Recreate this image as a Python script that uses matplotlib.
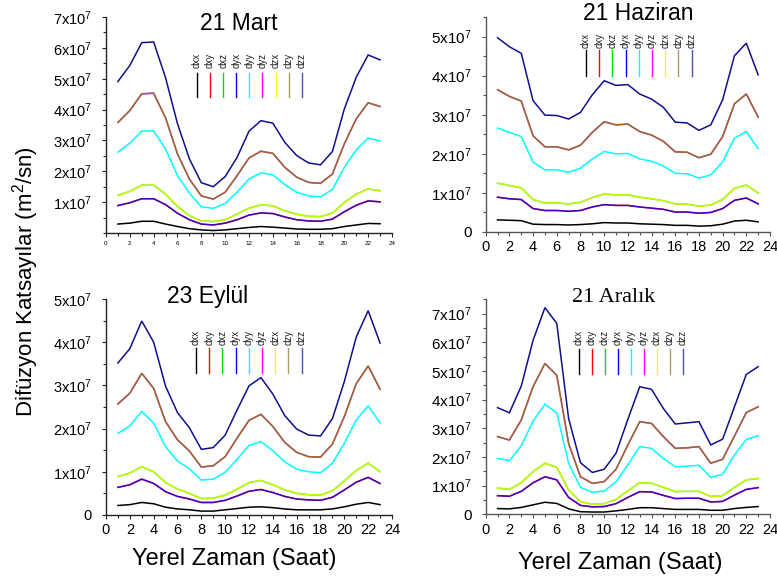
import matplotlib
matplotlib.use("Agg")
import matplotlib.pyplot as plt
from matplotlib.ticker import MultipleLocator, FixedLocator, FuncFormatter

plt.rcParams['font.family'] = ['Liberation Sans', 'DejaVu Sans']

W, H = 777, 579
SCALE = 1e7

hours = list(range(1, 24))
names = ['dxx', 'dxy', 'dxz', 'dyx', 'dyy', 'dyz', 'dzx', 'dzy', 'dzz']
colors = ['#000000', '#ff0000', '#00e000', '#0000ff', '#00ffff', '#ff00ff', '#ffff00', '#808000', '#10108a']
legend_colors = ['#000000', '#ff0000', '#00e000', '#0000ff', '#00ffff', '#ff00ff', '#ffff00', '#a8a060', '#5050b0']
alphas = [1, 1, 1, 0.75, 1, 1, 0.8, 0.85, 1]

# ---- 21 Mart (values in 1e7 m2/s) ----
mart_dxx = [0.29, 0.32, 0.38, 0.38, 0.29, 0.21, 0.14, 0.10, 0.08, 0.10, 0.14, 0.18, 0.21, 0.19, 0.16, 0.13, 0.12, 0.12, 0.14, 0.21, 0.26, 0.31, 0.30]
mart_dxy = [0.89, 0.98, 1.11, 1.11, 0.92, 0.64, 0.43, 0.29, 0.26, 0.32, 0.43, 0.58, 0.65, 0.63, 0.52, 0.43, 0.39, 0.38, 0.45, 0.69, 0.90, 1.04, 1.01]
mart_dxz = [1.22, 1.35, 1.55, 1.55, 1.26, 0.86, 0.56, 0.39, 0.37, 0.43, 0.61, 0.81, 0.91, 0.88, 0.72, 0.61, 0.54, 0.53, 0.65, 0.99, 1.26, 1.43, 1.37]
mart_dyy = [2.62, 2.91, 3.30, 3.31, 2.72, 1.86, 1.29, 0.85, 0.80, 0.96, 1.32, 1.75, 1.95, 1.89, 1.57, 1.32, 1.20, 1.17, 1.41, 2.13, 2.69, 3.08, 2.98]
mart_dyz = [3.58, 3.97, 4.51, 4.53, 3.73, 2.56, 1.75, 1.20, 1.10, 1.32, 1.86, 2.43, 2.65, 2.58, 2.13, 1.81, 1.64, 1.61, 1.91, 2.89, 3.70, 4.22, 4.10]
mart_dzz = [4.91, 5.43, 6.17, 6.19, 5.03, 3.54, 2.40, 1.63, 1.50, 1.83, 2.45, 3.30, 3.64, 3.56, 2.94, 2.51, 2.27, 2.21, 2.64, 4.02, 5.05, 5.77, 5.61]
mart_dyx, mart_dzx, mart_dzy = mart_dxy, mart_dxz, mart_dyz

# ---- 21 Haziran ----
haz_dxx = [0.31, 0.30, 0.29, 0.20, 0.19, 0.19, 0.18, 0.19, 0.21, 0.24, 0.23, 0.23, 0.21, 0.20, 0.19, 0.17, 0.17, 0.15, 0.16, 0.20, 0.28, 0.30, 0.26]
haz_dxy = [0.89, 0.85, 0.83, 0.60, 0.55, 0.55, 0.53, 0.55, 0.64, 0.70, 0.68, 0.68, 0.64, 0.61, 0.58, 0.51, 0.51, 0.48, 0.50, 0.60, 0.81, 0.87, 0.72]
haz_dxz = [1.25, 1.19, 1.13, 0.83, 0.74, 0.74, 0.72, 0.76, 0.88, 0.97, 0.95, 0.95, 0.89, 0.85, 0.80, 0.72, 0.71, 0.66, 0.69, 0.83, 1.12, 1.20, 1.00]
haz_dyy = [2.66, 2.55, 2.44, 1.79, 1.59, 1.59, 1.53, 1.63, 1.87, 2.06, 2.00, 2.01, 1.87, 1.81, 1.69, 1.50, 1.49, 1.38, 1.46, 1.79, 2.40, 2.57, 2.13]
haz_dyz = [3.64, 3.47, 3.35, 2.46, 2.18, 2.18, 2.10, 2.22, 2.55, 2.82, 2.74, 2.76, 2.57, 2.48, 2.32, 2.05, 2.04, 1.90, 1.99, 2.44, 3.28, 3.53, 2.94]
haz_dzz = [4.97, 4.74, 4.57, 3.36, 2.99, 2.98, 2.89, 3.06, 3.51, 3.87, 3.75, 3.77, 3.53, 3.40, 3.19, 2.81, 2.79, 2.60, 2.74, 3.38, 4.51, 4.83, 4.02]
haz_dyx, haz_dzx, haz_dzy = haz_dxy, haz_dxz, haz_dyz

# ---- 23 Eylul ----
eyl_dxx = [0.22, 0.24, 0.29, 0.26, 0.18, 0.14, 0.12, 0.09, 0.09, 0.12, 0.15, 0.18, 0.19, 0.17, 0.14, 0.12, 0.12, 0.12, 0.14, 0.19, 0.25, 0.29, 0.24]
eyl_dxy = [0.64, 0.70, 0.83, 0.73, 0.54, 0.43, 0.37, 0.29, 0.29, 0.34, 0.44, 0.55, 0.59, 0.52, 0.43, 0.37, 0.35, 0.34, 0.41, 0.58, 0.76, 0.87, 0.73]
eyl_dxz = [0.89, 0.97, 1.12, 1.00, 0.75, 0.60, 0.50, 0.38, 0.39, 0.46, 0.60, 0.75, 0.80, 0.70, 0.58, 0.50, 0.47, 0.46, 0.56, 0.79, 1.03, 1.20, 1.00]
eyl_dyy = [1.89, 2.06, 2.40, 2.13, 1.58, 1.25, 1.07, 0.81, 0.83, 0.99, 1.29, 1.61, 1.70, 1.49, 1.23, 1.06, 1.00, 0.98, 1.20, 1.66, 2.20, 2.53, 2.13]
eyl_dyz = [2.57, 2.82, 3.28, 2.93, 2.16, 1.74, 1.48, 1.11, 1.14, 1.35, 1.78, 2.19, 2.33, 2.05, 1.68, 1.45, 1.35, 1.34, 1.64, 2.28, 3.04, 3.45, 2.91]
eyl_dzz = [3.52, 3.85, 4.49, 4.00, 2.98, 2.37, 2.02, 1.52, 1.56, 1.85, 2.43, 2.99, 3.18, 2.80, 2.30, 1.99, 1.85, 1.83, 2.23, 3.09, 4.12, 4.73, 3.98]
eyl_dyx, eyl_dzx, eyl_dzy = eyl_dxy, eyl_dxz, eyl_dyz

# ---- 21 Aralik ----
ara_dxx = [0.20, 0.19, 0.24, 0.33, 0.42, 0.38, 0.19, 0.09, 0.08, 0.08, 0.12, 0.17, 0.23, 0.23, 0.20, 0.17, 0.17, 0.17, 0.14, 0.14, 0.20, 0.24, 0.27]
ara_dxy = [0.65, 0.63, 0.80, 1.10, 1.31, 1.20, 0.59, 0.31, 0.26, 0.27, 0.37, 0.59, 0.79, 0.78, 0.66, 0.55, 0.56, 0.56, 0.43, 0.45, 0.67, 0.87, 0.93]
ara_dxz = [0.91, 0.87, 1.10, 1.49, 1.78, 1.64, 0.85, 0.44, 0.35, 0.37, 0.52, 0.82, 1.10, 1.08, 0.94, 0.79, 0.80, 0.80, 0.62, 0.65, 0.94, 1.20, 1.25]
ara_dyy = [1.95, 1.87, 2.39, 3.25, 3.84, 3.54, 1.78, 0.94, 0.77, 0.81, 1.13, 1.72, 2.36, 2.30, 1.95, 1.66, 1.68, 1.71, 1.29, 1.39, 2.07, 2.61, 2.74]
ara_dyz = [2.71, 2.59, 3.29, 4.45, 5.26, 4.85, 2.47, 1.31, 1.08, 1.14, 1.57, 2.42, 3.23, 3.17, 2.71, 2.30, 2.32, 2.36, 1.78, 1.92, 2.73, 3.55, 3.75]
ara_dzz = [3.72, 3.54, 4.47, 6.07, 7.21, 6.66, 3.34, 1.80, 1.46, 1.57, 2.13, 3.31, 4.45, 4.36, 3.69, 3.15, 3.19, 3.23, 2.42, 2.62, 3.75, 4.88, 5.15]
ara_dyx, ara_dzx, ara_dzy = ara_dxy, ara_dxz, ara_dyz

panels = [
    dict(title='21 Mart', series=[mart_dxx, mart_dxy, mart_dxz, mart_dyx, mart_dyy, mart_dyz, mart_dzx, mart_dzy, mart_dzz],
         box=(106, 392, 17, 233), ymax=7, yticks=[1, 2, 3, 4, 5, 6, 7], yfs=10.5, xfs=4.5, spine='#222222',
         leg=(197, 13.1, 68, 73, 97), tpos=(239, 23), tfs=16.5, tfam=None),
    dict(title='21 Haziran', series=[haz_dxx, haz_dxy, haz_dxz, haz_dyx, haz_dyy, haz_dyz, haz_dzx, haz_dzy, haz_dzz],
         box=(485.7, 770, 17, 232), ymax=5.5, yticks=[0, 1, 2, 3, 4, 5], yfs=11, xfs=10.5, spine='#555555',
         leg=(586, 13.2, 48, 50, 76), tpos=(638, 13), tfs=16.5, tfam=None),
    dict(title='23 Eylül', series=[eyl_dxx, eyl_dxy, eyl_dxz, eyl_dyx, eyl_dyy, eyl_dyz, eyl_dzx, eyl_dzy, eyl_dzz],
         box=(106, 392, 299, 515), ymax=5, yticks=[0, 1, 2, 3, 4, 5], yfs=10.5, xfs=10.5, spine='#222222',
         leg=(196, 13.2, 345, 348, 373), tpos=(208, 296), tfs=16.5, tfam=None),
    dict(title='21 Aralık', series=[ara_dxx, ara_dxy, ara_dxz, ara_dyx, ara_dyy, ara_dyz, ara_dzx, ara_dzy, ara_dzz],
         box=(485.7, 770, 299.3, 514.3), ymax=7.5, yticks=[0, 1, 2, 3, 4, 5, 6, 7], yfs=11, xfs=10.5, spine='#555555',
         leg=(579, 13.0, 345, 349, 374), tpos=(614, 297), tfs=16, tfam=['Liberation Serif', 'DejaVu Serif']),
]

fig = plt.figure(figsize=(W / 100, H / 100), dpi=100)


def yfmt(v, pos):
    n = int(round(v / SCALE))
    if n == 0:
        return '0'
    return r'$\mathregular{%dx10^{7}}$' % n


for p in panels:
    l, r, t, b = p['box']
    ax = fig.add_axes([l / W, 1 - b / H, (r - l) / W, (b - t) / H])
    for name, vals, c, a in zip(names, p['series'], colors, alphas):
        ax.plot(hours, [v * SCALE for v in vals], color=c, alpha=a, lw=1.1, solid_joinstyle='miter')
    ax.set_xlim(0, 24)
    ax.set_ylim(0, p['ymax'] * SCALE)
    ax.xaxis.set_major_locator(MultipleLocator(2))
    ax.xaxis.set_minor_locator(MultipleLocator(1))
    ax.yaxis.set_major_locator(FixedLocator([v * SCALE for v in p['yticks']]))
    ax.yaxis.set_minor_locator(MultipleLocator(0.5 * SCALE))
    ax.yaxis.set_major_formatter(FuncFormatter(yfmt))
    ax.tick_params(axis='x', which='major', length=3, width=0.8, labelsize=p['xfs'], colors=p['spine'], labelcolor='black', pad=3)
    ax.tick_params(axis='x', which='minor', length=2, width=0.8, colors=p['spine'])
    ax.tick_params(axis='y', which='major', length=3, width=0.8, labelsize=p['yfs'], colors=p['spine'], labelcolor='black', pad=7)
    ax.tick_params(axis='y', which='minor', length=2, width=0.8, colors=p['spine'])
    for s in ('top', 'right'):
        ax.spines[s].set_visible(False)
    for s in ('left', 'bottom'):
        ax.spines[s].set_color(p['spine'])
        ax.spines[s].set_linewidth(1.0)
    ax.patch.set_alpha(0)

    # legend: rotated labels above short vertical colour strokes
    x0, dx, ytxt, ytop, ybot = p['leg']
    for i, (name, c) in enumerate(zip(names, legend_colors)):
        xp = (x0 + i * dx - l) / (r - l)
        ax.plot([xp, xp], [(b - ytop) / (b - t), (b - ybot) / (b - t)], transform=ax.transAxes,
                color=c, lw=1.0, clip_on=False)
        ax.text(xp, (b - ytxt) / (b - t), name, transform=ax.transAxes, rotation=90,
                ha='center', va='bottom', fontsize=7, color='#222222')

    tkw = dict(ha='center', va='center', fontsize=p['tfs'])
    if p['tfam']:
        tkw['family'] = p['tfam']
    fig.text(p['tpos'][0] / W, 1 - p['tpos'][1] / H, p['title'], **tkw)

fig.text(26 / W, 1 - 282 / H, r'Difüzyon Katsayılar (m$^{\mathregular{2}}$/sn)', rotation=90,
         ha='center', va='center', fontsize=16)
fig.text(234 / W, 1 - 559 / H, 'Yerel Zaman (Saat)', ha='center', va='center', fontsize=17)
fig.text(620 / W, 1 - 563 / H, 'Yerel Zaman (Saat)', ha='center', va='center', fontsize=17)

fig.savefig('out.png', dpi=100)
